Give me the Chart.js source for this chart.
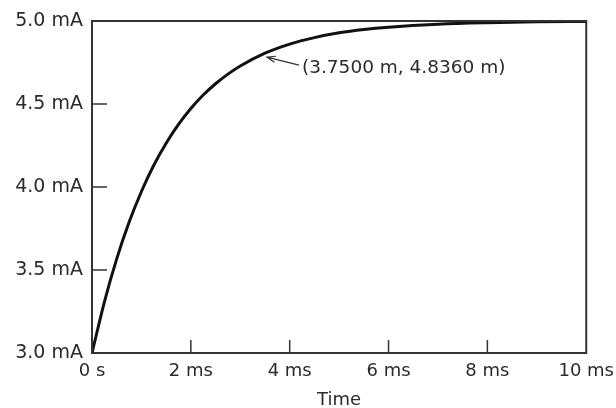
<!DOCTYPE html>
<html>
<head>
<meta charset="utf-8">
<script src="https://cdn.jsdelivr.net/npm/chart.js@4.4.0/dist/chart.umd.min.js"></script>
<style>
  html, body { margin: 0; padding: 0; background: #fff; }
  #wrap { width: 616px; height: 408px; }
</style>
</head>
<body>
<div id="wrap"><canvas id="myChart"></canvas></div>
<script>
// time in ms, current in mA
const timeMs = [0, 0.25, 0.5, 0.75, 1, 1.25, 1.5, 1.75, 2, 2.25, 2.5, 2.75, 3, 3.5, 4, 4.5, 5, 5.5, 6, 7, 8, 9, 10];
const currentMa = [3.000, 3.307, 3.567, 3.787, 3.973, 4.131, 4.264, 4.377, 4.473, 4.554, 4.622, 4.680, 4.729, 4.806, 4.861, 4.900, 4.929, 4.949, 4.963, 4.981, 4.990, 4.995, 4.997];
const xTicks = [0, 2, 4, 6, 8, 10];
const yTicks = [3.0, 3.5, 4.0, 4.5, 5.0];
const cursorLabel = '(3.7500 m, 4.8360 m)';
const cursorPoint = [3.5, 4.806];

const ctx = document.getElementById('myChart');
const textColor = '#2b2b2b';
const fontFam = '"DejaVu Sans", sans-serif';

// box round the plot, inward ticks, cursor label with arrow
const probeFrame = {
    id: 'probeFrame',
    afterDraw(chart) {
        const c = chart.ctx;
        const a = chart.chartArea;
        const xs = chart.scales.x;
        const ys = chart.scales.y;
        c.save();
        c.strokeStyle = '#333';
        c.lineWidth = 2;
        c.strokeRect(a.left, a.top, a.right - a.left, a.bottom - a.top);

        c.lineWidth = 1.5;
        c.beginPath();
        xTicks.slice(1, -1).forEach(v => {
            const px = xs.getPixelForValue(v);
            c.moveTo(px, a.bottom);
            c.lineTo(px, a.bottom - 13);
        });
        yTicks.slice(1, -1).forEach(v => {
            const py = ys.getPixelForValue(v);
            c.moveTo(a.left, py);
            c.lineTo(a.left + 15, py);
        });
        c.stroke();

        // arrow to the curve
        const tx = xs.getPixelForValue(cursorPoint[0]) + 2;
        const ty = ys.getPixelForValue(cursorPoint[1]) + 4;
        const sx = tx + 32, sy = ty + 8;
        const ang = Math.atan2(sy - ty, sx - tx);
        c.strokeStyle = '#333';
        c.lineWidth = 1.2;
        c.beginPath();
        c.moveTo(sx, sy);
        c.lineTo(tx, ty);
        c.moveTo(tx + 9 * Math.cos(ang - 0.35), ty + 9 * Math.sin(ang - 0.35));
        c.lineTo(tx, ty);
        c.lineTo(tx + 9 * Math.cos(ang + 0.35), ty + 9 * Math.sin(ang + 0.35));
        c.stroke();

        c.fillStyle = textColor;
        c.font = '18.5px ' + fontFam;
        c.textBaseline = 'middle';
        c.textAlign = 'left';
        c.fillText(cursorLabel, sx + 3, sy + 3);
        c.restore();
    }
};

new Chart(ctx, {
    type: 'line',
    data: {
        datasets: [{
            data: timeMs.map((t, i) => ({ x: t, y: currentMa[i] })),
            borderColor: '#111',
            borderWidth: 3,
            pointRadius: 0,
            cubicInterpolationMode: 'monotone',
            fill: false
        }]
    },
    options: {
        responsive: true,
        maintainAspectRatio: false,
        animation: false,
        devicePixelRatio: 1,
        layout: { padding: { left: 0, right: 29, top: 21, bottom: 0 } },
        plugins: {
            legend: { display: false },
            tooltip: { enabled: false }
        },
        scales: {
            x: {
                type: 'linear',
                min: 0,
                max: 10,
                afterBuildTicks: s => { s.ticks = xTicks.map(v => ({ value: v })); },
                afterFit: s => { s.height = 55; },
                grid: { display: false, drawTicks: true, tickLength: 6 },
                border: { display: false },
                ticks: {
                    color: textColor,
                    font: { family: fontFam, size: 18 },
                    padding: 2,
                    maxRotation: 0,
                    callback: v => v === 0 ? '0 s' : v + ' ms'
                },
                title: {
                    display: true,
                    text: 'Time',
                    color: textColor,
                    font: { family: fontFam, size: 18 },
                    padding: { top: 4, bottom: -3 }
                }
            },
            y: {
                min: 3,
                max: 5,
                afterBuildTicks: s => { s.ticks = yTicks.map(v => ({ value: v })); },
                afterFit: s => { s.width = 92; },
                grid: { display: false, drawTicks: false },
                border: { display: false },
                ticks: {
                    color: textColor,
                    font: { family: fontFam, size: 19 },
                    padding: 9,
                    callback: v => v.toFixed(1) + ' mA'
                }
            }
        }
    },
    plugins: [probeFrame]
});
</script>
</body>
</html>
